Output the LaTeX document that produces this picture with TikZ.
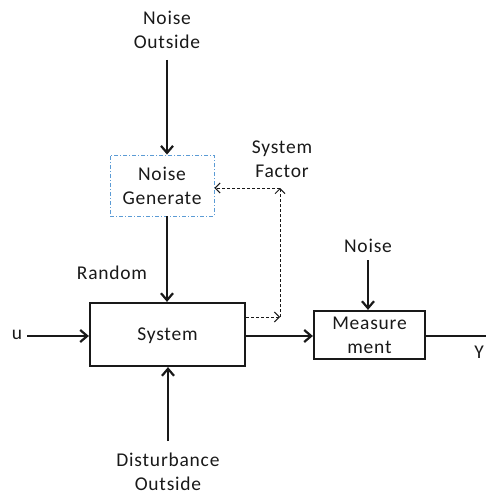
\documentclass[tikz,border=0pt]{standalone}
\usepackage{fontspec}
\setmainfont{Carlito}[LetterSpace=4]
\usetikzlibrary{arrows.meta}
\definecolor{ngblue}{RGB}{91,155,213}
\tikzset{
  lbl/.style={font=\fontsize{19.5}{24}\selectfont, align=center, text=black!90, inner sep=0pt},
  blk/.style={draw=black!90, line width=2.2pt, minimum width=#1},
  sarrow/.style={line width=2.2pt, draw=black!90, -{Straight Barb[length=7pt,width=12pt,line width=2.2pt]}},
  darrow/.style={line width=1pt, draw=black!90, dash pattern=on 3pt off 2pt, -{Straight Barb[length=5pt,width=10pt,line width=1pt]}},
}
\begin{document}
\begin{tikzpicture}[x=1pt,y=-1pt]
  \useasboundingbox (0,0) rectangle (486,497);
  % blocks
  \node[draw=ngblue, line width=0.9pt, dash pattern=on 4pt off 2pt on 1pt off 2pt,
        minimum width=104pt, minimum height=61pt, inner sep=0pt] (ng) at (162,185.5) {};
  \node[lbl] at (162,185.5) {Noise\\Generate};
  \node[blk=155pt, minimum height=63pt, inner sep=0pt] (sys) at (167.5,334.5) {};
  \node[lbl] at (167.5,336) {System};
  \node[blk=111pt, minimum height=48pt, inner sep=0pt] (meas) at (369.5,335) {};
  \node[lbl] at (369.5,335) {Measure\\ment};
  % labels
  \node[lbl] (nout) at (167,30) {Noise\\Outside};
  \node[lbl] (dout) at (168,472) {Disturbance\\Outside};
  \node[lbl] (sf) at (282,159) {System\\Factor};
  \node[lbl] (rand) at (112,273) {Random};
  \node[lbl] (noise) at (368,246) {Noise};
  \node[lbl] (u) at (17,335) {u};
  \node[lbl] (y) at (479,352) {Y};
  % free ends
  \coordinate (nstart) at (167,60);
  \coordinate (dstart) at (168,441);
  \coordinate (mstart) at (368,260);
  \coordinate (ustart) at (27,336);
  \coordinate (yend) at (486,336);
  \coordinate (c1) at (280,317);
  \coordinate (c2) at (280,188);
  % solid connectors
  \draw[sarrow] (nstart) -- (ng.north -| nstart);
  \draw[sarrow] (ng.south -| nstart) -- (sys.north -| nstart);
  \draw[sarrow] (dstart) -- (sys.south -| dstart);
  \draw[sarrow] (ustart) -- (sys.west |- ustart);
  \draw[sarrow] (sys.east |- ustart) -- (meas.west |- ustart);
  \draw[sarrow] (mstart) -- (meas.north -| mstart);
  \draw[line width=2.2pt, draw=black!90] (meas.east |- ustart) -- (yend);
  % dashed feedback
  \draw[darrow] (sys.east |- c1) -- (c1);
  \draw[darrow] (c1) -- (c2);
  \draw[darrow] (c2) -- (ng.east |- c2);
\end{tikzpicture}
\end{document}
